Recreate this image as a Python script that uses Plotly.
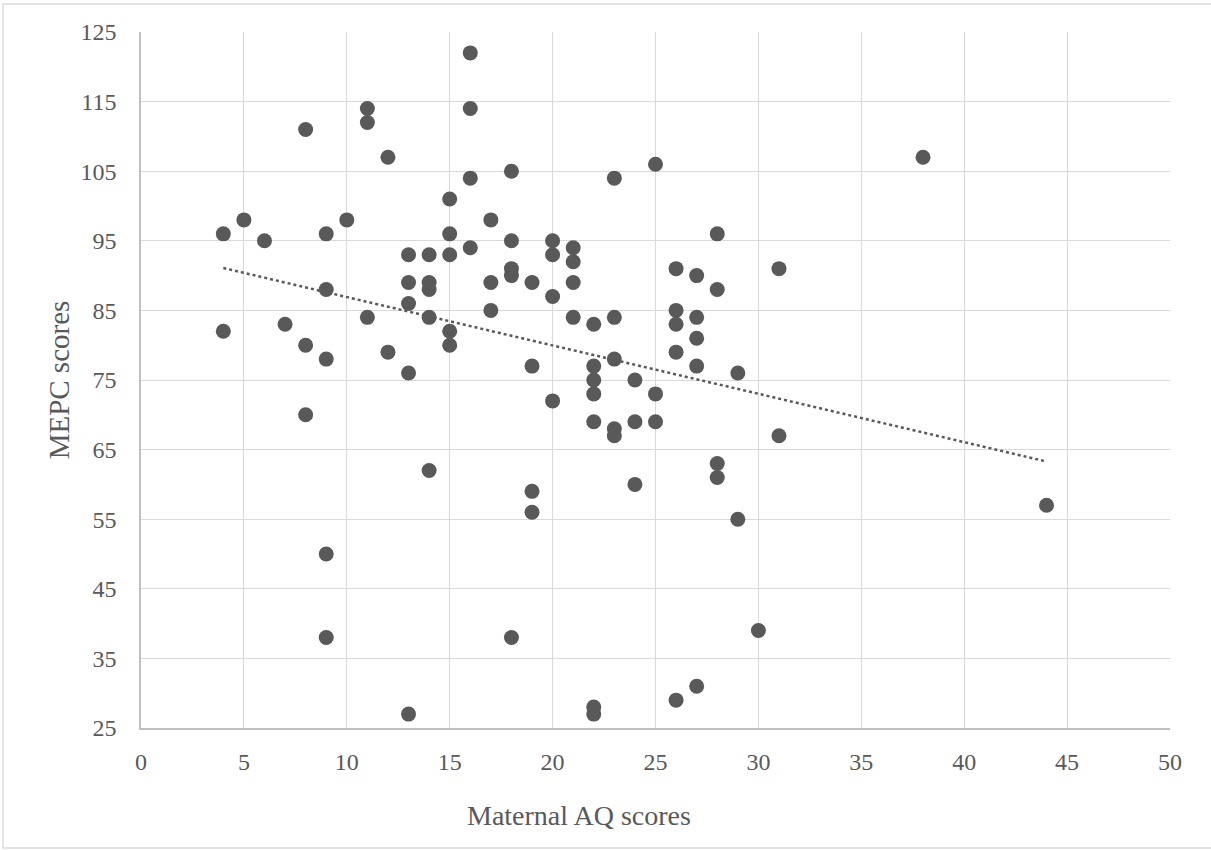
import numpy as np
import plotly.graph_objects as go

# Maternal AQ scores (x) and MEPC scores (y)
aq_scores = [4, 4, 5, 6, 7, 8, 8, 8,
             9, 9, 9, 9, 9, 10, 11, 11, 11, 12, 12,
             13, 13, 13, 13, 13, 14, 14, 14, 14, 14,
             15, 15, 15, 15, 15, 16, 16, 16, 16, 17, 17, 17,
             18, 18, 18, 18, 18, 19, 19, 19, 19, 20, 20, 20, 20,
             21, 21, 21, 21, 22, 22, 22, 22, 22, 22, 22,
             23, 23, 23, 23, 23, 24, 24, 24, 25, 25, 25,
             26, 26, 26, 26, 26, 27, 27, 27, 27, 27,
             28, 28, 28, 28, 29, 29, 30, 31, 31, 38, 44]
mepc_scores = [96, 82, 98, 95, 83, 111, 80, 70,
               96, 88, 78, 50, 38, 98, 114, 112, 84, 107, 79,
               93, 89, 86, 76, 27, 93, 89, 88, 84, 62,
               101, 96, 93, 82, 80, 122, 114, 104, 94, 98, 89, 85,
               105, 95, 91, 90, 38, 89, 77, 59, 56, 95, 93, 87, 72,
               94, 92, 89, 84, 83, 77, 75, 73, 69, 28, 27,
               104, 84, 78, 68, 67, 75, 69, 60, 106, 73, 69,
               91, 85, 83, 79, 29, 90, 84, 81, 77, 31,
               96, 88, 63, 61, 76, 55, 39, 91, 67, 107, 57]

x_ticks = [0, 5, 10, 15, 20, 25, 30, 35, 40, 45, 50]
y_ticks = [25, 35, 45, 55, 65, 75, 85, 95, 105, 115, 125]
x_title = "Maternal AQ scores"
y_title = "MEPC scores"

slope, intercept = np.polyfit(aq_scores, mepc_scores, 1)
trend_x = [min(aq_scores), max(aq_scores)]
trend_y = [slope * v + intercept for v in trend_x]

GREY = "#595959"
FONT = "Liberation Serif, Times New Roman, serif"

fig = go.Figure()
fig.add_trace(go.Scatter(
    x=trend_x, y=trend_y, mode="lines",
    line=dict(color=GREY, width=2.5, dash="dot"),
    hoverinfo="skip", showlegend=False))
fig.add_trace(go.Scatter(
    x=aq_scores, y=mepc_scores, mode="markers",
    marker=dict(color=GREY, size=15, line=dict(width=0)),
    showlegend=False))

L, R, T, B = 141, 41, 32, 122
W, H = 1211, 850
pw, ph = W - L - R, H - T - B

fig.update_layout(
    width=W, height=H,
    margin=dict(l=L, r=R, t=T, b=B, pad=0),
    paper_bgcolor="white", plot_bgcolor="white",
    font=dict(family=FONT, color=GREY, size=24),
    xaxis=dict(range=[0, 50], tickvals=x_ticks, ticktext=[str(v) for v in x_ticks],
               showgrid=True, gridcolor="#d9d9d9", gridwidth=1.3,
               showline=True, linecolor="#bfbfbf", linewidth=1.5,
               zeroline=False, ticks="", ticklabelstandoff=11,
               tickfont=dict(size=24, color=GREY, family=FONT)),
    yaxis=dict(range=[25, 125], tickvals=y_ticks, ticktext=[str(v) for v in y_ticks],
               showgrid=True, gridcolor="#d9d9d9", gridwidth=1.3,
               showline=True, linecolor="#bfbfbf", linewidth=1.5,
               zeroline=False, ticks="", ticklabelstandoff=18,
               tickfont=dict(size=24, color=GREY, family=FONT),
               title=dict(text=y_title, standoff=2,
                          font=dict(size=29, color=GREY, family=FONT))),
    annotations=[dict(text=x_title, xref="paper", yref="paper",
                      x=(579 - L) / pw, y=(H - B - 815) / ph,
                      xanchor="center", yanchor="middle", showarrow=False,
                      font=dict(size=28, color=GREY, family=FONT))],
    shapes=[dict(type="rect", xref="paper", yref="paper",
                 x0=(3 - L) / pw, x1=(1260 - L) / pw,
                 y0=(H - B - 848) / ph, y1=(H - B - 4) / ph,
                 line=dict(color="#d9d9d9", width=1.3), layer="below")],
)

fig.write_html("out.html", config={"displayModeBar": False},
               post_script="document.body.style.margin='0';document.body.style.padding='0';")
